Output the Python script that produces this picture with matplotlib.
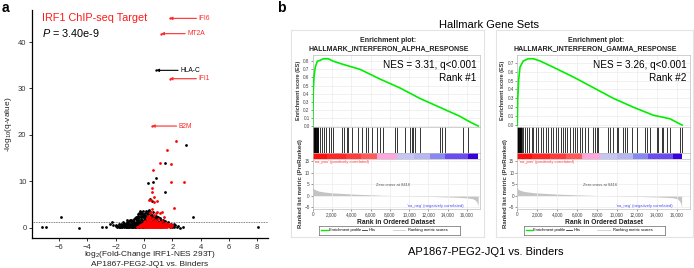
import matplotlib
matplotlib.use('Agg')
import matplotlib.pyplot as plt
from matplotlib.lines import Line2D

plt.rcParams['font.family'] = ['Liberation Sans', 'DejaVu Sans']
plt.rcParams['mathtext.fontset'] = 'custom'
plt.rcParams['mathtext.rm'] = 'Liberation Sans'
plt.rcParams['mathtext.it'] = 'Liberation Sans:italic'

W, H = 694, 268

# ---------------- panel a data ----------------
black_fc = [-7.23, -6.95, -5.9, -4.6, -3.0, -2.7, -2.4, -2.3, -2.2, -1.9, -1.6, -1.46, -1.2,
            2.54, 2.78, 3.48, 8.05, 0.31, 0.66, 0.85, 1.48, 1.48, 2.94, 0.42, 0.59,
            -1.8, -1.7, -1.6, -1.5, -1.4, -1.35, -1.3, -1.25, -1.2, -1.15, -1.1, -1.05, -1.0,
            -0.95, -0.9, -0.9, -0.85, -0.8, -0.8, -0.75, -0.7, -0.7, -0.65, -0.6, -0.6, -0.55,
            -0.5, -0.5, -0.45, -0.4, -0.4, -0.35, -0.35, -0.3, -0.3, -0.25, -0.25, -0.2, -0.2,
            -0.15, -0.1, -0.1, -0.05, -0.05, 0.0, 0.0, 0.05, 0.1, 0.1, 0.15, 0.2, 0.25, 0.3,
            0.35, 0.4, 0.45, 0.5, 0.55, 0.6, 0.65, 0.7, 0.75, 0.8, 0.85, 0.9, 0.95, 1.0, 1.05,
            1.1, 1.15, 1.2, 1.3, 1.35, 1.4, 1.5, 1.6, 1.7, 1.8, 1.9, 2.0, 2.1, 2.2, -1.5, -1.0,
            -0.65, 0.15, -1.05, -0.95, -0.75, -0.55, -0.45, -0.15, -0.05, 0.05, -1.3, -1.1,
            -0.85, -0.6, -0.35, -0.2, -0.1, -0.25, -0.4, -0.3,
            -2.0, -1.95, -1.85, -1.75, -1.65, -1.55, -1.45, -1.4, -1.3, -1.2, -1.15, -1.1,
            -1.05, -1.0, -0.95, -0.9, -0.85, -0.8, -0.75, -0.7, -0.65, -0.6, -0.55, -0.5, -0.5,
            -0.45, -0.45, -0.4, -0.35, -0.35, -0.3, -0.3, -0.25, -0.2, -0.2, -0.15, -0.15,
            -0.1, -0.1, -0.05, -0.05, 0.0, 0.0, 0.05, 0.05, 0.1, 0.1, 0.15, 0.2, 0.2, 0.25,
            0.3, 0.35, 0.4, 0.45, 0.5, 0.55, 0.6, 0.65, 0.7, 0.8, 0.9, 1.0, 1.1, 1.2, 1.3,
            1.4, 1.5, 1.6, 1.7, 1.8, 1.9, 2.0, 2.1, 2.3, 2.4, -1.7, -1.25, -0.75, -0.35]
black_q = [0.1, 0.1, 2.4, 0.0, 0.05, 0.2, 0.8, 1.2, 0.5, 0.1, 0.8, 1.3, 1.6,
           0.0, 0.1, 2.4, 0.1, 9.7, 9.9, 10.8, 13.9, 7.6, 17.9, 6.1, 5.8,
           0.05, 0.2, 0.1, 0.3, 0.05, 0.5, 0.2, 0.8, 0.1, 0.4, 1.0, 0.2, 0.6,
           1.2, 0.1, 0.4, 0.8, 1.5, 0.2, 1.0, 0.5, 1.9, 0.1, 1.3, 0.7, 2.2,
           0.3, 1.7, 1.0, 2.6, 0.1, 3.1, 1.4, 3.7, 0.6, 2.4, 3.3, 1.9, 0.2,
           2.9, 1.2, 3.5, 0.4, 2.2, 1.6, 2.8, 0.8, 3.2, 1.9, 0.3, 2.5, 3.6, 1.3,
           3.9, 2.1, 3.0, 0.9, 2.7, 1.7, 3.4, 0.6, 2.2, 1.4, 2.6, 0.3, 1.9, 2.4, 0.8,
           1.5, 0.2, 1.1, 0.5, 1.7, 0.2, 0.9, 0.4, 1.2, 0.1, 0.6, 0.3, 0.1, 0.5, 0.9, 1.6,
           2.0, 3.7, 0.1, 0.5, 0.3, 0.05, 0.6, 0.15, 0.1, 0.05, 0.35, 0.1,
           0.25, 0.05, 0.2, 0.4, 0.2, 1.1, 2.0, 1.0,
           0.3, 0.6, 0.4, 0.7, 0.5, 0.15, 0.6, 1.1, 0.9, 1.3, 0.7, 0.35,
           1.4, 0.9, 0.3, 1.7, 1.2, 0.6, 1.6, 1.2, 0.8, 1.8, 1.0, 2.4, 0.7,
           1.5, 2.9, 1.8, 0.5, 2.3, 1.5, 2.9, 1.0, 2.6, 3.1, 1.6, 0.7,
           2.5, 0.5, 1.4, 3.0, 0.6, 2.3, 1.3, 2.7, 0.6, 2.4, 1.5, 3.1, 1.0, 2.0,
           2.9, 1.6, 3.3, 2.0, 2.6, 1.3, 2.4, 2.0, 1.6, 2.0, 2.3, 1.2, 2.1, 1.7, 1.3,
           1.0, 1.4, 0.9, 0.6, 0.5, 0.9, 0.1, 0.7, 0.2, 0.4, 0.05, 0.05, 0.05, 0.05]
red_fc = [2.26, 1.6, 1.13, 1.88, 0.61, 1.88, 2.83, 0.54, 0.57, 0.71, 0.38, 0.9, 2.14,
          0.47, 0.7, 0.54, 0.85, 1.25,
          -0.3, -0.25, -0.2, -0.15, -0.1, -0.05, 0.0, 0.0, 0.05, 0.1, 0.1, 0.15, 0.2, 0.2,
          0.25, 0.3, 0.3, 0.35, 0.35, 0.4, 0.4, 0.45, 0.45, 0.5, 0.5, 0.55, 0.6, 0.6, 0.65,
          0.7, 0.7, 0.75, 0.8, 0.85, 0.9, 0.9, 0.95, 1.0, 1.05, 1.1, 1.13, 1.2, 1.25, 1.3,
          1.35, 1.4, 1.45, 1.5, 1.55, 1.6, 1.7, 1.8, 1.9, 2.0, -0.4, -0.5, 0.15, 0.55, 0.95,
          1.15, 0.25, 0.5, 0.8, 1.0, 0.05, 0.65, 0.35, 1.2, 0.75, 1.05,
          -0.35, -0.3, -0.2, -0.15, -0.1, -0.05, 0.0, 0.05, 0.05, 0.1, 0.15, 0.15, 0.2, 0.25,
          0.25, 0.3, 0.3, 0.35, 0.35, 0.4, 0.4, 0.45, 0.45, 0.5, 0.5, 0.55, 0.6, 0.6, 0.65,
          0.7, 0.7, 0.75, 0.8, 0.8, 0.85, 0.9, 0.95, 1.0, 1.05, 1.1, 1.15, 1.2, 1.3, 1.4,
          1.5, 1.6, 1.7, 1.8, 0.0, 0.2, 0.4, 0.6, 0.8, 1.0, 1.25, 1.4, 0.05, 0.3, 0.55, 0.75]
red_q = [18.7, 16.7, 14.0, 13.8, 12.4, 9.85, 9.9, 8.5, 7.7, 6.7, 6.0, 5.7, 4.2,
         6.0, 5.6, 4.1, 3.1, 3.4,
         0.05, 0.3, 0.6, 0.1, 0.9, 0.4, 0.1, 1.2, 0.7, 0.2, 1.5, 0.9, 0.4, 2.0,
         1.2, 0.1, 2.6, 0.6, 1.8, 3.1, 1.0, 0.3, 2.3, 1.5, 3.4, 0.7, 2.0, 0.1, 1.2,
         2.8, 0.4, 1.6, 0.9, 0.2, 1.3, 3.3, 0.6, 1.9, 0.3, 1.0, 3.1, 0.5, 1.4, 0.1,
         0.8, 2.2, 0.4, 1.1, 0.2, 0.7, 0.3, 0.9, 0.1, 0.5, 0.2, 0.1, 0.05, 0.05, 0.05,
         0.05, 0.5, 0.2, 0.35, 0.15, 0.3, 0.45, 0.25, 0.2, 0.1, 0.6,
         0.3, 0.5, 0.2, 0.7, 0.3, 0.8, 0.5, 0.2, 1.0, 0.5, 0.2, 1.3, 0.8, 0.3,
         1.6, 0.7, 1.2, 0.2, 2.2, 0.5, 1.4, 0.9, 1.8, 0.3, 0.7, 1.1, 0.4, 1.5, 0.8,
         0.2, 1.1, 0.6, 0.3, 1.3, 0.7, 0.2, 1.0, 0.4, 0.7, 0.2, 1.2, 0.8, 0.5, 0.3,
         0.6, 0.1, 0.7, 0.3, 0.3, 0.05, 0.05, 0.05, 0.05, 0.05, 0.05, 0.05, 0.45, 0.4, 0.35, 0.35]

# labelled genes
gene_names = ['IFI6', 'MT2A', 'HLA-C', 'IFI1', 'B2M']
gene_fc = [1.8, 1.2, 0.85, 1.8, 0.55]
gene_q = [45.1, 41.8, 33.9, 32.1, 21.9]
gene_text_x = [3.7, 2.9, 2.4, 3.7, 2.3]
gene_red = [True, True, False, True, True]

# ---------------- panel b data ----------------
es_alpha_rank = [0, 65, 135, 270, 480, 760, 1100, 1620, 2140, 3180, 4900, 6970, 9050,
                 11120, 13190, 15260, 16300, 17150]
es_alpha = [0.0, 0.44, 0.61, 0.73, 0.80, 0.81, 0.83, 0.83, 0.80, 0.76, 0.70, 0.58, 0.47,
            0.34, 0.23, 0.12, 0.05, 0.0]
es_gamma_rank = [0, 40, 140, 270, 600, 1100, 1610, 2280, 3610, 5620, 7630, 9640, 11650,
                 13650, 15330, 16340, 16550]
es_gamma = [0.0, 0.28, 0.51, 0.65, 0.72, 0.745, 0.745, 0.72, 0.65, 0.54, 0.42, 0.30, 0.20,
            0.11, 0.07, 0.01, 0.0]

hits_alpha = [0, 40, 80, 120, 160, 200, 240, 280, 320, 360, 400, 450, 500, 550, 760, 960,
              1170, 1380, 1660, 1860, 2070, 3000, 3280, 3520, 3690, 4110, 4730, 5070, 5520,
              5760, 6110, 6690, 6970, 7320, 8530, 8700, 9560, 10080, 10250, 10420, 10600,
              11120, 13190, 13350, 13710, 15540, 16130]
hits_gamma = [0, 40, 80, 120, 160, 200, 240, 280, 320, 360, 400, 440, 600, 770, 940, 1200,
              1440, 1610, 1880, 2110, 2350, 2610, 2880, 3110, 3350, 3610, 3890, 4120, 4360,
              4560, 4790, 5020, 5290, 5560, 5790, 6020, 6300, 6500, 6800, 7100, 7630, 7800,
              7970, 8130, 9140, 9310, 9580, 9980, 10140, 10640, 10810, 10980, 11490, 11990,
              12820, 12990, 13320, 14000, 14160, 14500, 14660, 15060, 15330, 16340, 16500]

bar_alpha_start = [0, 1500, 3500, 5000, 6650, 8700, 10500, 12150, 13700, 16100]
bar_alpha_end = [1500, 3500, 5000, 6650, 8700, 10500, 12150, 13700, 16100, 17150]
bar_gamma_start = [0, 1500, 3300, 4900, 6460, 8300, 10000, 11650, 13150, 15660]
bar_gamma_end = [1500, 3300, 4900, 6460, 8300, 10000, 11650, 13150, 15660, 16500]
bar_colors = ['#ff0c0c', '#ff2626', '#ff3c3c', '#ff5a5a', '#ffa6dc', '#c6c6f4',
              '#b6b6f2', '#8888f2', '#6a4cf0', '#3800dc']

metric_alpha_rank = [0, 100, 300, 600, 1000, 1500, 2000, 3000, 4000, 5000, 6000, 7000, 8416,
                     9500, 11000, 12500, 14000, 15000, 16000, 16600, 16900, 17050, 17150]
metric_alpha = [3.8, 3.0, 2.5, 2.0, 1.7, 1.4, 1.2, 0.95, 0.7, 0.5, 0.35, 0.18, 0.0,
                -0.12, -0.28, -0.42, -0.6, -0.75, -1.0, -1.4, -2.2, -3.2, -4.6]
metric_gamma_rank = [0, 100, 300, 600, 1000, 1500, 2000, 3000, 4000, 5000, 6000, 7000, 8416,
                     9500, 11000, 12500, 14000, 15000, 15700, 16100, 16300, 16420, 16500]
metric_gamma = [3.3, 2.7, 2.3, 1.9, 1.6, 1.35, 1.15, 0.9, 0.65, 0.48, 0.33, 0.17, 0.0,
                -0.12, -0.28, -0.42, -0.6, -0.78, -1.0, -1.5, -2.4, -3.5, -5.2]

rank_ticks = [0, 2000, 4000, 6000, 8000, 10000, 12000, 14000, 16000]
rank_labels = ['0', '2,000', '4,000', '6,000', '8,000', '10,000', '12,000', '14,000', '16,000']


def box(x0, y0, x1, y1):
    # pixel box (top-left origin) -> figure fraction rect
    return [x0 / W, 1 - y1 / H, (x1 - x0) / W, (y1 - y0) / H]


fig = plt.figure(figsize=(W / 100, H / 100), dpi=100)

# ======== panel a: volcano ========
ax = fig.add_axes(box(32, 10, 268, 238))
ax.scatter(black_fc, black_q, s=4, c='black', linewidths=0, zorder=2)
ax.scatter(red_fc, red_q, s=4, c='#ff0000', linewidths=0, zorder=3)
ax.axhline(1.3, color='#555555', lw=0.6, ls=(0, (1, 1)), zorder=1)
for name, fc, q, tx, is_red in zip(gene_names, gene_fc, gene_q, gene_text_x, gene_red):
    col = '#ff2a2a' if is_red else 'black'
    ax.scatter([fc], [q], s=3, c=col, linewidths=0, zorder=3)
    ax.annotate('', xy=(fc, q), xytext=(tx, q),
                arrowprops=dict(arrowstyle='-|>', color=col, lw=0.8, mutation_scale=4,
                                shrinkA=0, shrinkB=0))
    ax.text(tx + 0.15, q, name, color=col, fontsize=4.8, va='center', ha='left')
ax.set_xlim(-7.92, 8.76)
ax.set_ylim(-2.22, 46.9)
ax.set_xticks([-6, -4, -2, 0, 2, 4, 6, 8])
ax.set_yticks([0, 10, 20, 30, 40])
ax.spines['top'].set_visible(False)
ax.spines['right'].set_visible(False)
for s in ['left', 'bottom']:
    ax.spines[s].set_linewidth(0.9)
ax.tick_params(labelsize=5.5, length=2.5, width=0.7, colors='#333333', pad=1.5)
ax.set_ylabel('-log$_{10}$(q-value)', fontsize=6, labelpad=3, color='#222222')
ax.text(0.042, 0.965, 'IRF1 ChIP-seq Target', color='#ff1a1a', fontsize=7.8,
        transform=ax.transAxes, va='center')
ax.text(0.042, 0.899, '$P$ = 3.40e-9', fontsize=7.8, transform=ax.transAxes, va='center')
fig.text(150 / W, 1 - 255 / H, 'log$_2$(Fold-Change IRF1-NES 293T)', fontsize=6,
         ha='center', va='center', color='#222222')
fig.text(150 / W, 1 - 264 / H, 'AP1867-PEG2-JQ1 vs. Binders', fontsize=6,
         ha='center', va='center', color='#222222')
fig.text(2 / W, 1 - 8 / H, 'a', fontsize=10, fontweight='bold', va='center')

# ======== panel b: GSEA ========
fig.text(277 / W, 1 - 8 / H, 'b', fontsize=10, fontweight='bold', va='center')
fig.text(489 / W, 1 - 25 / H, 'Hallmark Gene Sets', fontsize=8, ha='center', va='center')
fig.text(486 / W, 1 - 252 / H, 'AP1867-PEG2-JQ1 vs. Binders', fontsize=8,
         ha='center', va='center')

panels = [
    dict(x0=312.7, x1=480, title='HALLMARK_INTERFERON_ALPHA_RESPONSE', es_r=es_alpha_rank,
         es=es_alpha, ylim=(-0.006, 0.877), es_ticks=[0.0, 0.1, 0.2, 0.3, 0.4, 0.5, 0.6, 0.7, 0.8],
         hits=hits_alpha, bs=bar_alpha_start, be=bar_alpha_end, mr=metric_alpha_rank,
         mv=metric_alpha, nes='NES = 3.31, q<0.001', rank='Rank #1', frame=(291, 484)),
    dict(x0=517.3, x1=690, title='HALLMARK_INTERFERON_GAMMA_RESPONSE', es_r=es_gamma_rank,
         es=es_gamma, ylim=(-0.017, 0.787), es_ticks=[0.0, 0.1, 0.2, 0.3, 0.4, 0.5, 0.6, 0.7],
         hits=hits_gamma, bs=bar_gamma_start, be=bar_gamma_end, mr=metric_gamma_rank,
         mv=metric_gamma, nes='NES = 3.26, q<0.001', rank='Rank #2', frame=(496, 693)),
]
XMAX = 17340
grid_c = '#ececec'
frame_c = '#bdbdbd'
for p in panels:
    x0, x1 = p['x0'], p['x1']
    xc = (x0 + x1) / 2 - 8
    # light outer frame of the GSEA image
    fa = fig.add_axes(box(p['frame'][0], 30, p['frame'][1], 237))
    fa.set_xticks([])
    fa.set_yticks([])
    fa.patch.set_alpha(0)
    for s in fa.spines.values():
        s.set_color('#e4e4e4')
        s.set_linewidth(0.8)
    fig.text(xc / W, 1 - 40 / H, 'Enrichment plot:', fontsize=5, fontweight='bold',
             ha='center', va='center', color='#222222')
    fig.text(xc / W, 1 - 48.5 / H, p['title'], fontsize=5, fontweight='bold',
             ha='center', va='center', color='#222222')

    # enrichment score
    a1 = fig.add_axes(box(x0, 55, x1, 126.5))
    a1.plot(p['es_r'], p['es'], color='#00ee00', lw=1.2, zorder=3)
    a1.set_xlim(0, XMAX)
    a1.set_ylim(*p['ylim'])
    a1.set_yticks(p['es_ticks'])
    a1.set_yticklabels(['%.1f' % t for t in p['es_ticks']])
    a1.set_xticks(rank_ticks)
    a1.set_xticklabels([])
    a1.grid(True, color=grid_c, lw=0.5)
    a1.tick_params(labelsize=3.3, length=1.2, width=0.4, pad=1, colors='#444444')
    a1.text(0.98, 0.86, p['nes'], transform=a1.transAxes, ha='right', va='center', fontsize=7.2)
    a1.text(0.98, 0.68, p['rank'], transform=a1.transAxes, ha='right', va='center', fontsize=7.2)
    fig.text((x0 - 14.5) / W, 1 - 90 / H, 'Enrichment score (ES)', rotation=90, fontsize=4,
             fontweight='bold', ha='center', va='center', color='#333333')

    # hits
    a2 = fig.add_axes(box(x0, 126.5, x1, 153))
    a2.vlines(p['hits'], 0, 1, color='black', lw=0.55)
    a2.set_xlim(0, XMAX)
    a2.set_ylim(0, 1)
    a2.set_xticks([])
    a2.set_yticks([])

    # ranked list colour bar
    a3 = fig.add_axes(box(x0, 153, x1, 158.5))
    for s0, s1, c in zip(p['bs'], p['be'], bar_colors):
        a3.axvspan(s0, s1, color=c, lw=0)
    a3.set_xlim(0, XMAX)
    a3.set_ylim(0, 1)
    a3.set_xticks([])
    a3.set_yticks([])

    # ranked list metric
    a4 = fig.add_axes(box(x0, 158.5, x1, 209))
    a4.fill_between(p['mr'], p['mv'], 0, color='#c4c4c4', lw=0)
    a4.set_xlim(0, XMAX)
    a4.set_ylim(-5.9, 16.3)
    a4.set_yticks([-5, 0, 5, 10, 15])
    a4.set_xticks(rank_ticks)
    a4.set_xticklabels(rank_labels)
    a4.grid(True, color=grid_c, lw=0.5)
    a4.tick_params(labelsize=3.3, length=1.2, width=0.4, pad=1, colors='#444444')
    a4.text(150, 14.6, "'na_pos' (positively correlated)", color='#ff4040', fontsize=3,
            va='center')
    a4.text(8300, 4.8, 'Zero cross at 8416', color='#555555', fontsize=3, ha='center',
            va='center')
    a4.text(15600, -4.4, "'na_neg' (negatively correlated)", color='#4a4aff', fontsize=3,
            ha='right', va='center')
    a4.set_xlabel('Rank in Ordered Dataset', fontsize=4.8, fontweight='bold', labelpad=1.5,
                  color='#222222')
    fig.text((x0 - 12) / W, 1 - 184 / H, 'Ranked list metric (PreRanked)', rotation=90,
             fontsize=4.3, fontweight='bold', ha='center', va='center', color='#333333')

    for a in (a1, a2, a3, a4):
        for s in a.spines.values():
            s.set_color(frame_c)
            s.set_linewidth(0.5)

    # legend box
    lg = fig.add_axes(box(x0 + 6.5, 226, x0 + 147.5, 234.5))
    lg.set_xlim(0, 1)
    lg.set_ylim(0, 1)
    lg.set_xticks([])
    lg.set_yticks([])
    for s in lg.spines.values():
        s.set_color('#666666')
        s.set_linewidth(0.5)
    lg.add_line(Line2D([0.014, 0.06], [0.5, 0.5], color='#00ee00', lw=1.0))
    lg.text(0.068, 0.5, 'Enrichment profile', fontsize=2.9, va='center')
    lg.add_line(Line2D([0.30, 0.34], [0.5, 0.5], color='#333333', lw=0.6))
    lg.text(0.35, 0.5, 'Hits', fontsize=2.9, va='center')
    lg.add_line(Line2D([0.52, 0.61], [0.5, 0.5], color='#cccccc', lw=0.6))
    lg.text(0.63, 0.5, 'Ranking metric scores', fontsize=2.9, va='center')

fig.savefig('out.png', dpi=100)
